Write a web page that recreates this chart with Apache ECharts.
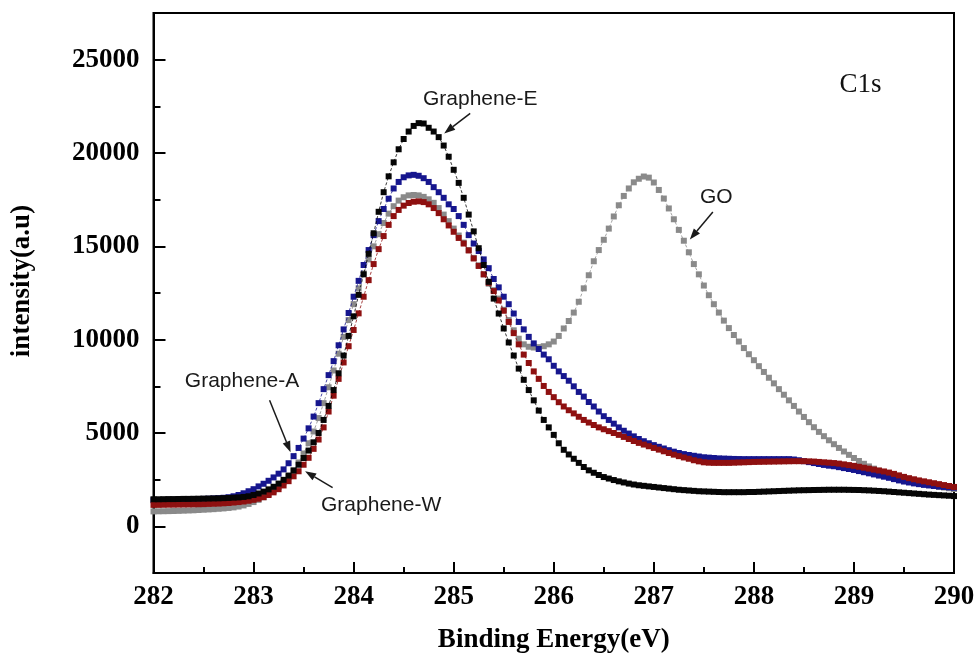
<!DOCTYPE html>
<html>
<head>
<meta charset="utf-8">
<title>C1s XPS spectra</title>
<script src="https://cdn.jsdelivr.net/npm/echarts@6/dist/echarts.min.js"></script>
<style>
  html, body { margin: 0; padding: 0; background: #fff; }
  #chart { width: 980px; height: 661px; }
</style>
</head>
<body>
<div id="chart"></div>
<script>
// Binding energy sampling: 282.00 eV to 290.00 eV in 0.05 eV steps (161 points)
const energyStart = 282;
const energyStep = 0.05;

// Intensity (a.u.), one row per eV
const grapheneE = [
  1450,1450,1455,1460,1460,1465,1470,1470,1475,1480,1485,1490,1495,1500,1510,1520,1535,1550,1575,1610,
  1680,1760,1860,1980,2120,2290,2490,2720,2990,3300,3660,4060,4500,5000,5700,6450,7300,8200,9150,10200,
  11250,12400,13500,14600,15700,16850,17900,18750,19500,20200,20750,21150,21450,21600,21580,21350,21150,20850,20400,19800,
  19100,18400,17600,16700,15800,14900,14000,13100,12200,11400,10600,9850,9150,8450,7850,7300,6750,6200,5700,5300,
  4900,4450,4100,3850,3620,3400,3180,3000,2870,2750,2640,2560,2480,2410,2350,2290,2240,2200,2170,2140,
  2110,2080,2050,2020,1990,1960,1940,1920,1900,1880,1870,1860,1850,1840,1830,1830,1830,1830,1830,1840,
  1840,1850,1860,1870,1880,1890,1900,1910,1920,1930,1935,1940,1945,1950,1955,1960,1960,1960,1960,1955,
  1950,1945,1935,1925,1910,1895,1880,1860,1840,1820,1800,1780,1760,1740,1720,1700,1685,1670,1655,1640,
  1620
];

const grapheneA = [
  1400,1405,1410,1415,1420,1425,1430,1440,1450,1460,1470,1480,1495,1510,1530,1560,1610,1680,1770,1880,
  1990,2140,2280,2440,2620,2820,3050,3380,3760,4200,4700,5250,5880,6600,7350,8100,8850,9700,10550,11430,
  12300,13150,14000,14800,15600,16350,17000,17550,18100,18450,18700,18800,18830,18780,18650,18450,18170,17900,17600,17250,
  17000,16620,16150,15600,15150,14750,14300,13830,13250,12800,12300,11900,11400,10950,10550,10150,9800,9500,9200,8950,
  8600,8300,8050,7800,7500,7200,6950,6660,6420,6150,5900,5700,5500,5300,5120,4970,4820,4680,4560,4450,
  4350,4260,4170,4080,4000,3930,3870,3820,3780,3740,3700,3680,3660,3640,3630,3620,3610,3605,3600,3600,
  3600,3600,3600,3600,3600,3600,3600,3600,3580,3540,3490,3440,3390,3340,3290,3250,3220,3170,3120,3070,
  3020,2960,2900,2840,2780,2720,2660,2600,2530,2460,2400,2350,2300,2260,2220,2190,2160,2130,2110,2090,
  2070
];

const grapheneW = [
  1150,1150,1155,1160,1160,1165,1170,1175,1180,1185,1190,1200,1210,1220,1235,1250,1275,1300,1330,1370,
  1420,1480,1560,1680,1820,1990,2190,2420,2680,2950,3300,3670,4150,4650,5300,6150,7000,7900,8780,9650,
  10520,11410,12300,13190,14050,14850,15550,16150,16620,16950,17180,17320,17390,17410,17370,17250,17050,16780,16450,16120,
  15780,15450,15150,14780,14350,13950,13500,13050,12600,12100,11550,10950,10350,9750,9200,8750,8300,7900,7520,7200,
  6920,6650,6420,6220,6050,5870,5700,5560,5430,5300,5200,5100,5000,4900,4790,4680,4570,4470,4380,4290,
  4200,4110,4020,3930,3840,3760,3690,3620,3540,3480,3430,3410,3400,3400,3400,3400,3410,3420,3430,3440,
  3450,3455,3460,3465,3470,3475,3480,3485,3490,3490,3490,3480,3470,3450,3430,3410,3390,3360,3320,3280,
  3240,3190,3140,3090,3040,2990,2940,2880,2810,2730,2650,2580,2520,2460,2410,2360,2310,2260,2210,2160,
  2110
];

const grapheneOxide = [
  800,805,810,815,820,830,840,850,860,875,890,905,920,940,960,985,1015,1060,1120,1200,
  1300,1420,1560,1720,1900,2110,2360,2650,3000,3420,3900,4450,5080,5800,6600,7450,8350,9250,10150,11050,
  11900,12750,13550,14300,15000,15650,16250,16750,17150,17450,17630,17730,17750,17730,17650,17520,17330,17050,16700,16350,
  15950,15580,15200,14800,14380,13980,13500,13000,12650,12200,11600,11050,10500,10050,9750,9620,9580,9600,9650,9750,
  9900,10200,10600,11000,11450,12030,12750,13450,14200,14800,15350,15950,16600,17200,17700,18100,18430,18620,18740,18680,
  18420,18020,17560,17030,16450,15880,15300,14680,14050,13500,12900,12380,11900,11450,11020,10620,10250,9900,9550,9220,
  8900,8580,8270,7960,7660,7350,7050,6750,6450,6150,5860,5580,5310,5060,4830,4610,4400,4200,4010,3830,
  3660,3500,3350,3210,3090,2980,2880,2790,2700,2620,2540,2470,2400,2340,2280,2220,2170,2120,2080,2040,
  2000
];

// Axis ticks
const xTicks = [282, 283, 284, 285, 286, 287, 288, 289, 290];
const yTicks = [0, 5000, 10000, 15000, 20000, 25000];

// Series names and colours
const seriesNames = ['GO', 'Graphene-A', 'Graphene-W', 'Graphene-E'];
const seriesColors = ['#8a8a8a', '#16168e', '#8e1010', '#050505'];
const seriesValues = [grapheneOxide, grapheneA, grapheneW, grapheneE];

// Callout labels with arrows, anchored in data space [eV, intensity]
const callouts = [
  { text: 'Graphene-E', label: [285.265, 22860], from: [285.165, 22120], to: [284.905, 21050] },
  { text: 'GO',         label: [287.625, 17630], from: [287.59, 16840],  to: [287.36, 15370] },
  { text: 'Graphene-A', label: [282.885, 7750],  from: [283.16, 6750],   to: [283.37, 3970] },
  { text: 'Graphene-W', label: [284.275, 1120],  from: [283.79, 2070],   to: [283.515, 2950] }
];
const peakTag = { text: 'C1s', at: [289.065, 23670] };

const energy = grapheneE.map((_, i) => +(energyStart + i * energyStep).toFixed(2));

const serif = "'Liberation Serif', 'Times New Roman', serif";
const sans = "'Liberation Sans', Arial, sans-serif";
const axisLineStyle = { color: '#000', width: 2 };
const tickFont = { fontFamily: serif, fontWeight: 'bold', fontSize: 27, color: '#000' };

const chart = echarts.init(document.getElementById('chart'), null, { renderer: 'canvas' });

const option = {
  animation: false,
  backgroundColor: '#fff',
  grid: {
    left: 153.5, right: 26, top: 13, bottom: 88,
    show: true, borderColor: '#000', borderWidth: 2, backgroundColor: 'transparent'
  },
  xAxis: {
    type: 'value', min: 282, max: 290, interval: 1,
    name: 'Binding Energy(eV)', nameLocation: 'middle', nameGap: 54,
    nameTextStyle: { fontFamily: serif, fontWeight: 'bold', fontSize: 27, color: '#000' },
    axisLine: { show: true, onZero: false, lineStyle: axisLineStyle },
    axisTick: { show: true, inside: true, length: 11, lineStyle: axisLineStyle },
    minorTick: { show: true, splitNumber: 2, length: 6, lineStyle: axisLineStyle },
    axisLabel: Object.assign({
      margin: 11, showMinLabel: true, showMaxLabel: true,
      formatter: v => (xTicks.indexOf(v) >= 0 ? String(v) : '')
    }, tickFont),
    splitLine: { show: false }, minorSplitLine: { show: false }
  },
  yAxis: [
    {
      // every 2500 gets a short tick; labels only on the 5000 steps
      type: 'value', min: -2500, max: 27500, interval: 2500, position: 'left',
      axisLine: { show: true, onZero: false, lineStyle: axisLineStyle },
      axisTick: { show: true, inside: true, length: 7, lineStyle: axisLineStyle },
      axisLabel: Object.assign({
        margin: 14, showMinLabel: false, showMaxLabel: false,
        formatter: v => (yTicks.indexOf(v) >= 0 ? String(v) : '')
      }, tickFont),
      splitLine: { show: false }
    },
    {
      // long ticks on the labelled values
      type: 'value', min: -2500, max: 27500, position: 'left',
      axisLine: { show: false },
      axisTick: { show: true, inside: true, length: 12, customValues: yTicks, lineStyle: axisLineStyle },
      axisLabel: { show: false },
      splitLine: { show: false }
    }
  ],
  series: seriesNames.map((name, k) => ({
    name: name,
    type: 'line',
    yAxisIndex: 0,
    data: energy.map((e, i) => [e, seriesValues[k][i]]),
    symbol: 'rect',
    symbolSize: 6,
    showSymbol: true,
    clip: true,
    itemStyle: { color: seriesColors[k] },
    lineStyle: { color: seriesColors[k], width: 0.8, type: [3, 2] },
    z: 2 + k
  }))
};

chart.setOption(option);

// Annotations: axis title, peak tag and arrowed callouts placed through the grid's coordinate system
function px(pt) { return chart.convertToPixel({ gridIndex: 0 }, pt); }

const graphics = [];
graphics.push({
  type: 'text', x: 22, y: 281, rotation: Math.PI / 2, z: 10,
  style: {
    text: 'intensity(a.u)', fill: '#000', font: 'bold 27px ' + serif,
    textAlign: 'center', textVerticalAlign: 'middle'
  }
});

const tagPos = px(peakTag.at);
graphics.push({
  type: 'text', x: tagPos[0], y: tagPos[1], z: 10,
  style: {
    text: peakTag.text, fill: '#111', font: '27px ' + serif,
    textAlign: 'center', textVerticalAlign: 'middle'
  }
});

callouts.forEach(c => {
  const lp = px(c.label), a = px(c.from), b = px(c.to);
  graphics.push({
    type: 'text', x: lp[0], y: lp[1], z: 10,
    style: {
      text: c.text, fill: '#1a1a1a', font: '21px ' + sans,
      textAlign: 'center', textVerticalAlign: 'middle'
    }
  });
  const dx = b[0] - a[0], dy = b[1] - a[1];
  const len = Math.hypot(dx, dy), ux = dx / len, uy = dy / len;
  const headLen = 11, headHalf = 4;
  const base = [b[0] - ux * headLen, b[1] - uy * headLen];
  graphics.push({
    type: 'line', z: 10,
    shape: { x1: a[0], y1: a[1], x2: base[0], y2: base[1] },
    style: { stroke: '#1a1a1a', lineWidth: 1.5 }
  });
  graphics.push({
    type: 'polygon', z: 10,
    shape: {
      points: [
        [b[0], b[1]],
        [base[0] - uy * headHalf, base[1] + ux * headHalf],
        [base[0] + uy * headHalf, base[1] - ux * headHalf]
      ]
    },
    style: { fill: '#1a1a1a' }
  });
});

chart.setOption({ graphic: graphics });
</script>
</body>
</html>
